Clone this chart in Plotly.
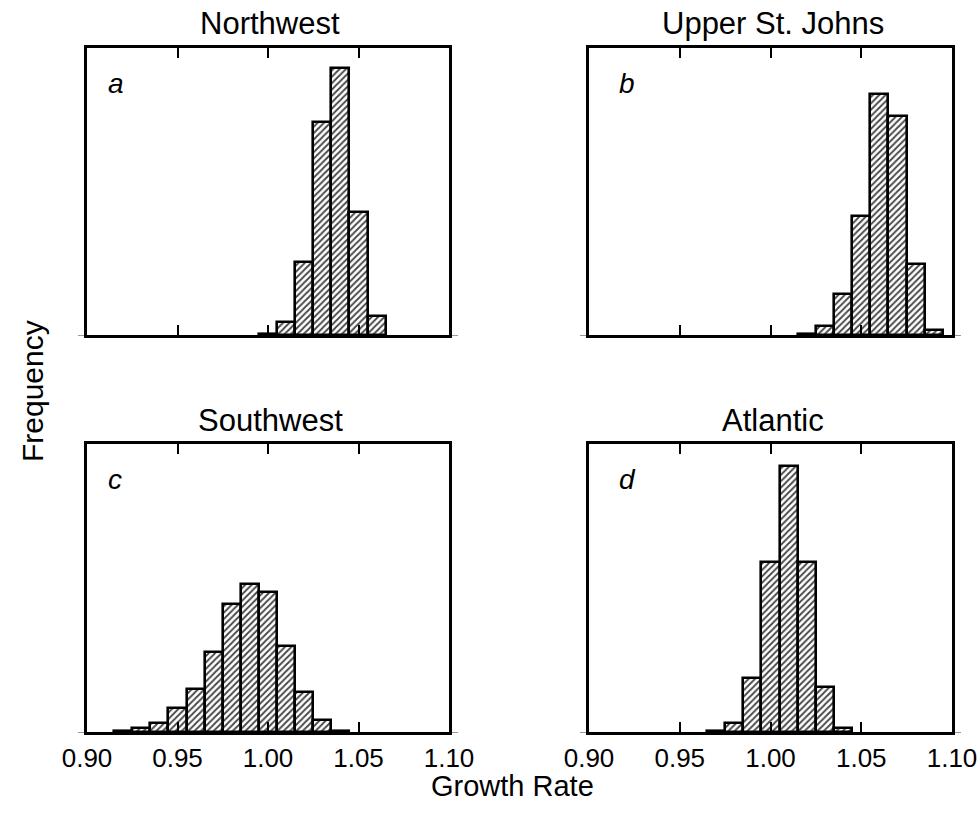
import plotly.graph_objects as go

# ---------------- data (relative frequency, bin width 0.01) ----------------
titles = ["Northwest", "Upper St. Johns", "Southwest", "Atlantic"]
letters = ["a", "b", "c", "d"]

nw_rate = [1.00, 1.01, 1.02, 1.03, 1.04, 1.05, 1.06]
nw_freq = [0.005, 0.044, 0.255, 0.743, 0.931, 0.429, 0.065]

usj_rate = [1.02, 1.03, 1.04, 1.05, 1.06, 1.07, 1.08, 1.09]
usj_freq = [0.005, 0.030, 0.143, 0.416, 0.841, 0.764, 0.248, 0.017]

sw_rate = [0.92, 0.93, 0.94, 0.95, 0.96, 0.97, 0.98, 0.99, 1.00, 1.01, 1.02, 1.03, 1.04]
sw_freq = [0.005, 0.014, 0.032, 0.082, 0.149, 0.277, 0.444, 0.513, 0.486, 0.297, 0.138, 0.041, 0.005]

atl_rate = [0.97, 0.98, 0.99, 1.00, 1.01, 1.02, 1.03, 1.04]
atl_freq = [0.005, 0.032, 0.187, 0.590, 0.925, 0.590, 0.156, 0.014]

tick_vals = [0.90, 0.95, 1.00, 1.05, 1.10]
tick_text = ["0.90", "0.95", "1.00", "1.05", "1.10"]
bin_width = 0.01

# ---------------- layout helpers ----------------
W, H = 980, 822
FONT = "Liberation Sans, Arial, sans-serif"


def fx(p):
    return p / W


def fy(p):
    return 1 - p / H


# pixel boxes of panels: (left, right, top, bottom)
boxes = [(87, 449, 48, 335), (589, 952, 48, 335),
         (87, 449, 444, 732), (589, 952, 444, 732)]

series = [(nw_rate, nw_freq), (usj_rate, usj_freq),
          (sw_rate, sw_freq), (atl_rate, atl_freq)]

fig = go.Figure()
layout = dict(
    template="none",
    width=W, height=H,
    margin=dict(l=0, r=0, t=0, b=0, pad=0),
    paper_bgcolor="white", plot_bgcolor="white",
    showlegend=False,
    font=dict(family=FONT, color="black"),
    bargap=0,
)

annotations = []
for i, ((xs, ys), (l, r, t, b)) in enumerate(zip(series, boxes)):
    n = "" if i == 0 else str(i + 1)
    fig.add_trace(go.Bar(
        x=xs, y=ys, width=bin_width,
        xaxis="x" + n, yaxis="y" + n,
        marker=dict(color="white",
                    line=dict(color="black", width=2.6),
                    pattern=dict(shape="/", size=4.5, solidity=0.4,
                                 fgcolor="#444444", bgcolor="white",
                                 fillmode="replace")),
        hoverinfo="x+y",
    ))
    bottom_row = i >= 2
    layout["xaxis" + n] = dict(
        domain=[fx(l), fx(r)], anchor="y" + n, automargin=False,
        range=[0.90, 1.10], tickvals=tick_vals, ticktext=tick_text,
        ticks="inside", ticklen=10, tickwidth=2.4, tickcolor="black",
        showline=True, linewidth=2.6, linecolor="black", mirror="ticks",
        showgrid=False, zeroline=False,
        showticklabels=bottom_row,
        tickfont=dict(size=26, family=FONT, color="black"),
        ticklabelstandoff=1,
    )
    layout["yaxis" + n] = dict(
        domain=[fy(b), fy(t)], anchor="x" + n, automargin=False,
        range=[0, 1], tickvals=[0],
        ticks="outside", ticklen=6, tickwidth=1, tickcolor="#999999",
        showline=True, linewidth=2.6, linecolor="black", mirror="ticks",
        showgrid=False, zeroline=False, showticklabels=False,
    )
    # panel title
    annotations.append(dict(
        x=fx((l + r) / 2 + 2), y=fy(t - 24), xref="paper", yref="paper",
        text=titles[i], showarrow=False, xanchor="center", yanchor="middle",
        font=dict(size=31, family=FONT, color="black"),
    ))
    # panel letter
    annotations.append(dict(
        x=fx(106 if i % 2 == 0 else 617), y=fy(t + 36),
        xref="paper", yref="paper",
        text="<i>" + letters[i] + "</i>", showarrow=False,
        xanchor="left", yanchor="middle",
        font=dict(size=28, family=FONT, color="black"),
    ))

annotations.append(dict(
    x=fx(32), y=fy(391), xref="paper", yref="paper", text="Frequency",
    textangle=-90, showarrow=False, xanchor="center", yanchor="middle",
    font=dict(size=30, family=FONT, color="black"),
))
annotations.append(dict(
    x=fx(512), y=fy(786), xref="paper", yref="paper", text="Growth Rate",
    showarrow=False, xanchor="center", yanchor="middle",
    font=dict(size=29, family=FONT, color="black"),
))

layout["annotations"] = annotations
fig.update_layout(**layout)
fig.write_html(
    "out.html",
    config={"displayModeBar": False},
    post_script="document.body.style.margin='0';document.body.style.overflow='hidden';",
)
